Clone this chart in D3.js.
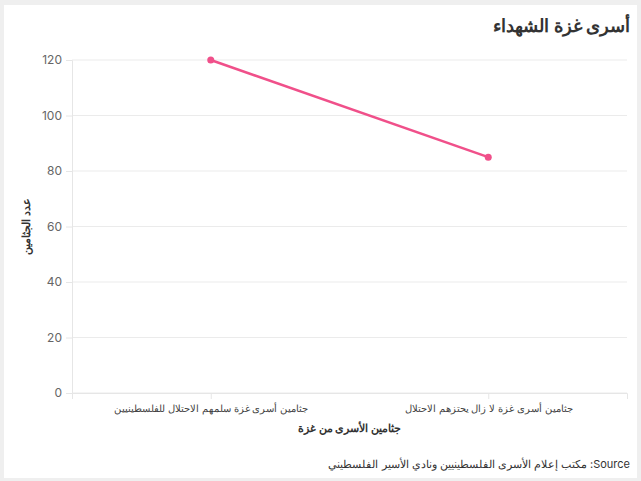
<!DOCTYPE html>
<html><head><meta charset="utf-8">
<script src="https://cdn.jsdelivr.net/npm/d3@7"></script>
<style>
html,body{margin:0;padding:0;background:#efefef;}
svg{display:block;}
</style></head>
<body>
<svg id="c" width="641" height="481"></svg>
<script>
const categories = ["جثامين أسرى غزة سلمهم الاحتلال للفلسطينيين", "جثامين أسرى غزة لا زال يحتزهم الاحتلال"];
const values = [120, 85];
const yTicks = [0, 20, 40, 60, 80, 100, 120];
const title = "أسرى غزة الشهداء";
const xTitle = "جثامين الأسرى من غزة";
const yTitle = "عدد الجثامين";
const sourceParts = ["Source", ":", "مكتب إعلام الأسرى الفلسطينيين ونادي الأسير الفلسطيني"];

const svg = d3.select("#c");
const font = "Inter, 'Noto Sans', sans-serif";
svg.append("rect").attr("x",4).attr("y",5).attr("width",633).attr("height",473).attr("fill","#fff");

const m = {l:72, r:627, t:60, b:393};
const x = d3.scalePoint().domain(categories).range([m.l, m.r]).padding(0.5);
const y = d3.scaleLinear().domain([0,120]).range([m.b, m.t]);

// grid
svg.append("g").selectAll("line").data(yTicks).join("line")
  .attr("x1", m.l).attr("x2", m.r).attr("y1", d=>y(d)).attr("y2", d=>y(d))
  .attr("stroke","#ebebeb").attr("stroke-width",1);

// y axis
const ya = svg.append("g").attr("transform",`translate(${m.l},0)`)
  .call(d3.axisLeft(y).tickValues(yTicks).tickSize(6).tickPadding(4));
ya.select(".domain").attr("stroke","#e6e6e6");
ya.selectAll(".tick line").attr("stroke","#e6e6e6");
ya.selectAll("text").attr("font-family",font).attr("font-size",12).attr("fill","#666");

// x axis
const xa = svg.append("g").attr("transform",`translate(0,${m.b})`)
  .call(d3.axisBottom(x).tickSize(6).tickPadding(6));
xa.select(".domain").attr("stroke","#e6e6e6");
xa.selectAll(".tick line").attr("stroke","#e6e6e6");
xa.selectAll("text").attr("font-family",font).attr("font-size",10).attr("fill","#444");

// line
const pts = categories.map((c,i)=>({c, v: values[i]}));
svg.append("path").datum(pts)
  .attr("d", d3.line().x(d=>x(d.c)).y(d=>y(d.v)))
  .attr("fill","none").attr("stroke","#f0508a").attr("stroke-width",2.5);
svg.append("g").selectAll("circle").data(pts).join("circle")
  .attr("cx", d=>x(d.c)).attr("cy", d=>y(d.v)).attr("r",3.5).attr("fill","#f0508a");

// titles
svg.append("text").attr("x",630).attr("y",32).attr("text-anchor","end")
  .attr("font-family",font).attr("font-size",18).attr("font-weight","bold").attr("fill","#333").text(title);
svg.append("text").attr("x",(m.l+m.r)/2).attr("y",432).attr("text-anchor","middle")
  .attr("font-family",font).attr("font-size",11).attr("font-weight","bold").attr("fill","#333").text(xTitle);
svg.append("text").attr("transform",`translate(30,${(m.t+m.b)/2}) rotate(-90)`).attr("text-anchor","middle")
  .attr("font-family",font).attr("font-size",11).attr("font-weight","bold").attr("fill","#333").text(yTitle);

// source: laid out right to left as separate pieces
let sx = 630;
sourceParts.forEach((s, i) => {
  const t = svg.append("text").attr("x", sx).attr("y", 468).attr("text-anchor","end")
    .attr("font-family",font).attr("font-size",11).attr("fill","#333").text(s);
  sx -= t.node().getComputedTextLength() + (i === 1 ? 3 : 0);
});
</script>
</body></html>
